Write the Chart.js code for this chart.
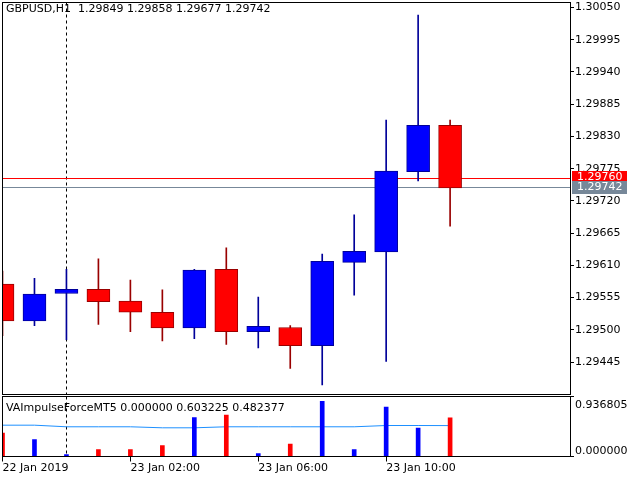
<!DOCTYPE html>
<html><head><meta charset="utf-8">
<script src="https://cdn.jsdelivr.net/npm/chart.js@4.4.1/dist/chart.umd.min.js"></script>
<style>
html,body{margin:0;padding:0;background:#fff;width:640px;height:480px;overflow:hidden}
canvas{position:absolute;left:0;display:block}
#c1{top:0}
#c2{top:394px}
</style></head><body>
<canvas id="c1" width="640" height="396"></canvas>
<canvas id="c2" width="640" height="86"></canvas>
<script>
// ---- data ----
const symbol = 'GBPUSD,H1';
const times = ['22 Jan 22:00','22 Jan 23:00','23 Jan 00:00','23 Jan 01:00','23 Jan 02:00','23 Jan 03:00','23 Jan 04:00','23 Jan 05:00','23 Jan 06:00','23 Jan 07:00','23 Jan 08:00','23 Jan 09:00','23 Jan 10:00','23 Jan 11:00','23 Jan 12:00'];
const open  = [1.29578,1.29515,1.29562,1.29569,1.29549,1.29530,1.29503,1.29603,1.29497,1.29504,1.29473,1.29615,1.29633,1.29770,1.29849];
const high  = [1.29600,1.29588,1.29603,1.29621,1.29585,1.29568,1.29603,1.29640,1.29556,1.29507,1.29629,1.29696,1.29858,1.30037,1.29858];
const low   = [1.29490,1.29507,1.29483,1.29509,1.29497,1.29481,1.29485,1.29475,1.29469,1.29434,1.29406,1.29559,1.29446,1.29754,1.29677];
const close = [1.29515,1.29561,1.29569,1.29548,1.29530,1.29503,1.29602,1.29497,1.29506,1.29473,1.29617,1.29634,1.29771,1.29849,1.29742];
const askPrice = 1.29760;
const bidPrice = 1.29742;
const priceTicks = [1.30050,1.29995,1.29940,1.29885,1.29830,1.29775,1.29720,1.29665,1.29610,1.29555,1.29500,1.29445];
const priceMin = 1.293896;
const priceMax = 1.300585;
const indicatorName = 'VAImpulseForceMT5';
const impulseUp   = [0,0.265,0.031,0,0,0,0.609,0,0.047,0,0.863,0.109,0.770,0.442,0];
const impulseDown = [0.364,0,0,0.109,0.109,0.172,0,0.645,0,0.192,0,0,0,0,0.603225];
const impulseLevel = [0.489,0.489,0.464,0.464,0.464,0.448,0.448,0.464,0.464,0.464,0.464,0.464,0.484,0.484,0.482377];
const indicatorTicks = [0, 0.936805];
const timeTickIndex = [0,4,8,12];
const timeTickLabels = ['22 Jan 2019','23 Jan 02:00','23 Jan 06:00','23 Jan 10:00'];
const separatorIndex = 2;
const xMin = 0, xMax = 17.75;

// ---- setup ----
Chart.defaults.font.family = 'DejaVu Sans';
Chart.defaults.font.size = 11;
Chart.defaults.color = '#000';
const idx = open.map((_, i) => i);
const isBull = i => close[i] >= open[i];
const FONT = '11px "DejaVu Sans"';
const crisp = v => Math.floor(v) + 0.5;

function drawFrame(chart) {
  const {ctx, chartArea: a} = chart;
  ctx.save();
  ctx.strokeStyle = '#000'; ctx.lineWidth = 1;
  const l = crisp(a.left), t = crisp(a.top), r = crisp(a.right), b = crisp(a.bottom);
  ctx.strokeRect(l, t, r - l, b - t);
  ctx.restore();
}
function drawSeparator(chart) {
  const {ctx, chartArea: a, scales: {x}} = chart;
  const sx = crisp(x.getPixelForValue(separatorIndex));
  ctx.save();
  ctx.strokeStyle = '#000'; ctx.lineWidth = 1; ctx.setLineDash([3, 3]);
  ctx.beginPath(); ctx.moveTo(sx, a.top); ctx.lineTo(sx, a.bottom); ctx.stroke();
  ctx.restore();
}

const mainPlugin = {
  id: 'mainDecor',
  beforeDatasetsDraw(chart) {
    const {ctx, chartArea: a, scales: {y}} = chart;
    drawSeparator(chart);
    ctx.save();
    ctx.fillStyle = '#FF0000';
    ctx.fillRect(a.left, Math.floor(y.getPixelForValue(askPrice)) + 1, a.right - a.left, 1);
    ctx.fillStyle = '#778899';
    ctx.fillRect(a.left, Math.floor(y.getPixelForValue(bidPrice)), a.right - a.left, 1);
    ctx.restore();
  },
  afterDatasetsDraw(chart) {
    const {ctx} = chart;
    drawFrame(chart);
    ctx.save();
    ctx.font = FONT; ctx.fillStyle = '#000'; ctx.textBaseline = 'alphabetic'; ctx.textAlign = 'left';
    const n = close.length - 1;
    ctx.fillText(symbol + '  ' + [open[n], high[n], low[n], close[n]].map(v => v.toFixed(5)).join(' '), 6, 12);
    ctx.restore();
  },
  afterDraw(chart) {
    const {ctx, chartArea: a, scales: {y}} = chart;
    ctx.save();
    ctx.font = FONT; ctx.textBaseline = 'middle'; ctx.textAlign = 'left';
    const box = (val, col, dy) => {
      const yy = Math.floor(y.getPixelForValue(val)) + dy;
      ctx.fillStyle = col;
      ctx.fillRect(a.right + 2, yy - 6, 55, 13);
      ctx.fillStyle = '#fff';
      ctx.fillText(val.toFixed(5), a.right + 7, yy + 0.5);
    };
    box(askPrice, '#FF0000', 0);
    box(bidPrice, '#778899', 0);
    ctx.restore();
  }
};

new Chart(document.getElementById('c1'), {
  type: 'bar',
  data: {
    datasets: [
      {
        label: 'body',
        data: idx.map(i => ({x: i, y: [open[i], close[i]]})),
        backgroundColor: c => isBull(c.dataIndex) ? '#0000FF' : '#FF0000',
        borderColor: c => isBull(c.dataIndex) ? '#000099' : '#990000',
        borderWidth: 1, borderSkipped: false, barThickness: 23, grouped: false, order: 0
      },
      {
        label: 'wick',
        data: idx.map(i => ({x: i, y: [low[i], high[i]]})),
        backgroundColor: c => isBull(c.dataIndex) ? '#000099' : '#990000',
        borderWidth: 0, barThickness: 1, grouped: false, order: 1
      }
    ]
  },
  options: {
    responsive: false, animation: false,
    layout: {padding: {left: 2.5, top: 2.5, right: 0, bottom: 1.5}},
    plugins: {legend: {display: false}, tooltip: {enabled: false}},
    scales: {
      x: {type: 'linear', min: xMin, max: xMax, display: false, offset: false, grid: {offset: false}},
      y: {
        type: 'linear', position: 'right', min: priceMin, max: priceMax,
        afterBuildTicks: s => { s.ticks = priceTicks.map(v => ({value: v})); },
        afterFit: s => { s.width = 70; s.paddingTop = 0; s.paddingBottom = 0; },
        ticks: {callback: v => Number(v).toFixed(5), padding: 1, autoSkip: false, color: '#000'},
        grid: {drawOnChartArea: false, color: '#000', tickLength: 4},
        border: {color: '#000'}
      }
    }
  },
  plugins: [mainPlugin]
});

const indPlugin = {
  id: 'indDecor',
  beforeDatasetsDraw(chart) { drawSeparator(chart); },
  afterDatasetsDraw(chart) {
    const {ctx, chartArea: a, scales: {y}} = chart;
    drawFrame(chart);
    ctx.save();
    ctx.font = FONT; ctx.fillStyle = '#000'; ctx.textBaseline = 'alphabetic'; ctx.textAlign = 'left';
    const n = close.length - 1;
    ctx.fillText(indicatorName + ' ' + [impulseUp[n], impulseDown[n], impulseLevel[n]].map(v => v.toFixed(6)).join(' '), 6, 17);
    ctx.fillText(indicatorTicks[1].toFixed(6), a.right + 5, y.getPixelForValue(indicatorTicks[1]) + 11);
    ctx.fillText(indicatorTicks[0].toFixed(6), a.right + 5, y.getPixelForValue(indicatorTicks[0]) - 3);
    ctx.restore();
  }
};

new Chart(document.getElementById('c2'), {
  type: 'bar',
  data: {
    datasets: [
      {type: 'bar', data: idx.map(i => ({x: i, y: impulseUp[i]})), backgroundColor: '#0000FF', borderWidth: 0, barThickness: 4, grouped: false, order: 0},
      {type: 'bar', data: idx.map(i => ({x: i, y: impulseDown[i]})), backgroundColor: '#FF0000', borderWidth: 0, barThickness: 4, grouped: false, order: 0},
      {type: 'line', data: idx.map(i => ({x: i, y: impulseLevel[i]})), borderColor: '#1E90FF', borderWidth: 1, pointRadius: 0, tension: 0, order: 2}
    ]
  },
  options: {
    responsive: false, animation: false,
    layout: {padding: {left: 2.5, top: 2.5, right: 0, bottom: 0}},
    plugins: {legend: {display: false}, tooltip: {enabled: false}},
    scales: {
      x: {
        type: 'linear', min: xMin, max: xMax, offset: false,
        afterBuildTicks: s => { s.ticks = timeTickIndex.map(v => ({value: v})); },
        afterFit: s => { s.height = 23.5; s.paddingLeft = 0; s.paddingRight = 0; },
        ticks: {callback: v => timeTickLabels[timeTickIndex.indexOf(v)], align: 'start', maxRotation: 0, autoSkip: false, padding: 0, color: '#000'},
        grid: {drawOnChartArea: false, color: '#000', tickLength: 5, offset: false},
        border: {color: '#000'}
      },
      y: {
        type: 'linear', position: 'right', min: indicatorTicks[0], max: indicatorTicks[1],
        afterBuildTicks: s => { s.ticks = indicatorTicks.map(v => ({value: v})); },
        afterFit: s => { s.width = 70; s.paddingTop = 0; s.paddingBottom = 0; },
        ticks: {callback: () => ''},
        grid: {drawOnChartArea: false, color: '#000', tickLength: 4},
        border: {color: '#000'}
      }
    }
  },
  plugins: [indPlugin]
});
</script>
</body></html>
